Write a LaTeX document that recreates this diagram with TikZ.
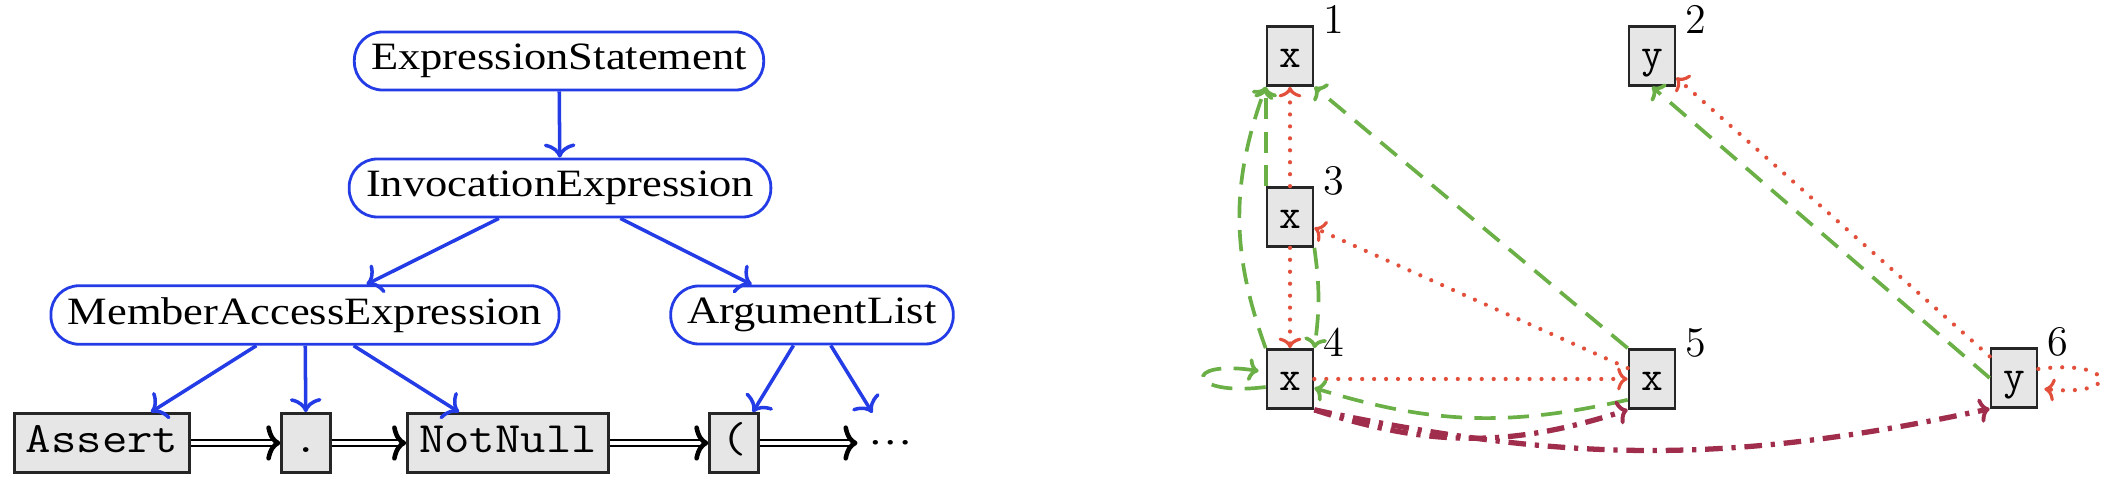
\documentclass[tikz,border=0pt]{standalone}
\usepackage{fontspec}
\newfontfamily\treefont[FakeStretch=1.15]{Liberation Serif}
\newfontfamily\tokfont[FakeStretch=1.14]{Latin Modern Mono}
\usetikzlibrary{arrows.meta, positioning}
\definecolor{treeblue}{RGB}{35,60,230}
\definecolor{flowgreen}{RGB}{106,176,70}
\definecolor{flowred}{RGB}{226,80,60}
\definecolor{flowmaroon}{RGB}{160,45,75}
\definecolor{boxgray}{RGB}{230,230,230}

\begin{document}
\begin{tikzpicture}[
        x=0.01cm, y=0.01cm,
        syn/.style={rectangle, draw=treeblue, line width=0.8pt, fill=white, rounded corners=8pt, inner xsep=4.8pt, minimum height=0.58cm, font=\treefont\fontsize{11}{13}\selectfont},
        tok/.style={rectangle, draw=black!85, line width=0.75pt, fill=boxgray, inner xsep=3.3pt, text height=7.6pt, text depth=2pt, minimum width=0.45cm, minimum height=0.59cm, font=\tokfont\fontsize{12.3}{14}\selectfont},
        varbox/.style={rectangle, draw=black!85, line width=0.75pt, fill=boxgray, inner sep=2pt, text height=8.6pt, text depth=2pt, minimum width=0.46cm, minimum height=0.59cm, font=\ttfamily\fontsize{12}{14}\selectfont},
        idx/.style={anchor=base west, inner sep=0pt, font=\fontsize{12}{14}\selectfont},
        synedge/.style={draw=treeblue, line width=1pt, -{To[length=4pt, width=9pt]}},
        tokedge/.style={draw=black, double, double distance=1.2pt, line width=0.55pt, -{To[length=4pt, width=10pt, line width=1.3pt]}},
        lastread/.style={draw=flowred, line width=1.2pt, line cap=round, dash pattern=on 0pt off 3.4pt, -{To[length=3pt, width=6.5pt, line width=0.9pt]}},
        lastwrite/.style={draw=flowgreen, line width=1.05pt, dash pattern=on 6pt off 3.5pt, -{To[length=3pt, width=6.5pt]}},
        lexuse/.style={draw=flowmaroon, line width=1.5pt, dash pattern=on 5pt off 2.5pt on 1.2pt off 2.5pt, -{To[length=3pt, width=7pt, line width=1.1pt]}}
    ]
        \useasboundingbox (0,0) rectangle (2115,482);

        % ================= SYNTAX TREE =================
        \node[syn] (es) at (559,421) {ExpressionStatement};
        \node[syn] (ie) at (560,294) {InvocationExpression};
        \node[syn] (mae) at (305,167) {MemberAccessExpression};
        \node[syn] (al) at (812,167) {ArgumentList};

        \node[tok] (assert) at (102,39) {Assert};
        \node[tok] (dot) at (306,39) {.};
        \node[tok] (notnull) at (508,39) {NotNull};
        \node[tok] (paren) at (734,39) {(};
        \node[minimum height=0.59cm, inner xsep=3pt, font=\treefont\fontsize{11}{13}\selectfont] (rest) at (891,39) {\dots};

        \draw[synedge] (es) -- (ie);
        \draw[synedge] (ie) -- (mae);
        \draw[synedge] (ie) -- (al);
        \draw[synedge] (mae) -- (assert);
        \draw[synedge] (mae) -- (dot);
        \draw[synedge] (mae) -- (notnull);
        \draw[synedge] (al) -- (paren);
        \draw[synedge] (al) -- (rest);

        % token sequence
        \draw[tokedge] (assert) -- (dot);
        \draw[tokedge] (dot) -- (notnull);
        \draw[tokedge] (notnull) -- (paren);
        \draw[tokedge] (paren) -- (rest);

        % ================= DATA FLOW GRAPH =================
        \node[varbox] (x1) at (1290,426) {x};
        \node[varbox] (y2) at (1652,426) {y};
        \node[varbox] (x3) at (1290,265) {x};
        \node[varbox] (x4) at (1290,103) {x};
        \node[varbox] (x5) at (1652,103) {x};
        \node[varbox] (y6) at (2014,104) {y};

        \foreach \v/\k in {x1/1, y2/2, x3/3, x4/4, x5/5, y6/6}
            \node[idx] (n\k) at ([xshift=0.8mm, yshift=-0.8mm]\v.north east) {\k};

        % last read
        \draw[lastread] (x3) -- (x1);
        \draw[lastread] (x3) -- (x4);
        \draw[lastread] (x5) -- (x3);
        \draw[lastread] (x4) -- (x5);
        \draw[lastread] (y6) -- (y2);
        \draw[lastread] ([yshift=0.9mm]y6.east) .. controls +(7.8mm,1mm) and +(7.8mm,-0.8mm) .. ([xshift=0.6mm, yshift=-1.1mm]y6.east);

        % last write
        \draw[lastwrite] (x3.north west) -- (x1.south west);
        \draw[lastwrite] (x4.north west) to[bend left=20] (x1.south west);
        \draw[lastwrite] (x3.south east) to[bend left=8] (x4.north east);
        \draw[lastwrite] (x5.north west) -- (x1.south east);
        \draw[lastwrite] ([yshift=1mm]x5.south west) to[bend left=15] ([yshift=-0.9mm]x4.east);
        \draw[lastwrite] ([yshift=-0.8mm]x4.west) .. controls +(-7.8mm,-1mm) and +(-7.8mm,1.2mm) .. ([xshift=-0.7mm, yshift=0.8mm]x4.west);
        \draw[lastwrite] (y6.west) -- (y2.south);

        % lexical use
        \draw[lexuse] (x4.south east) to[bend right=18] (x5.south west);
        \draw[lexuse] (x4.south east) to[bend right=12] (y6.south west);

    \end{tikzpicture}
\end{document}
